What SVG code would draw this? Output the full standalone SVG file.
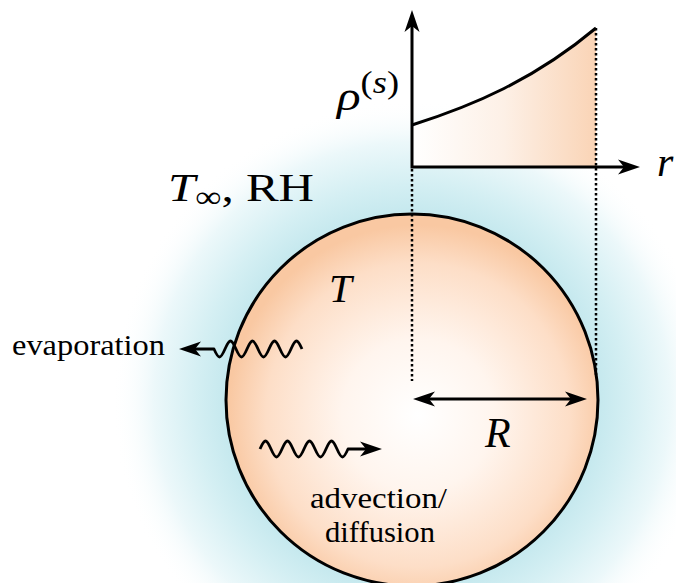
<svg xmlns="http://www.w3.org/2000/svg" width="676" height="583" viewBox="0 0 676 583">
<style>
.ln{fill:none;stroke:#000;stroke-width:3}
.dot{fill:none;stroke:#000;stroke-width:2.5;stroke-dasharray:2.5 2.5}
.wave{fill:none;stroke:#000;stroke-width:2.8;stroke-linejoin:round}
</style>
<defs>
<radialGradient id="glow" gradientUnits="userSpaceOnUse" cx="412" cy="400" r="300">
<stop offset="0.6" stop-color="#c2e7ed"/>
<stop offset="0.72" stop-color="#d4eff3"/>
<stop offset="0.86" stop-color="#ecf8fa"/>
<stop offset="1" stop-color="#ffffff" stop-opacity="0"/>
</radialGradient>
<radialGradient id="drop" gradientUnits="userSpaceOnUse" cx="418" cy="415" r="190">
<stop offset="0" stop-color="#ffffff"/>
<stop offset="0.4" stop-color="#fff5ee"/>
<stop offset="0.8" stop-color="#fddec7"/>
<stop offset="1" stop-color="#f9c8a2"/>
</radialGradient>
<linearGradient id="area" x1="412" y1="0" x2="596" y2="0" gradientUnits="userSpaceOnUse">
<stop offset="0" stop-color="#ffffff"/>
<stop offset="0.5" stop-color="#fdf0e6"/>
<stop offset="1" stop-color="#fad4b6"/>
</linearGradient>
<marker id="ah" viewBox="-22 -8 24 16" refX="-10" refY="0" markerWidth="24" markerHeight="16" markerUnits="userSpaceOnUse" orient="auto-start-reverse">
<path d="M0,0 L-22,-7.5 L-16,0 L-22,7.5 Z" fill="#000"/>
</marker>
</defs>
<rect width="676" height="583" fill="#fff"/>
<g id="glow-region">
<circle cx="412" cy="400" r="300" fill="url(#glow)"/>
</g>
<g id="droplet">
<circle cx="412" cy="400" r="186" fill="url(#drop)" stroke="#000" stroke-width="3"/>
</g>
<g id="plot">
<path d="M412,125 C473.3,105.6 534.7,79.4 596,28 L596,167 L412,167 Z" fill="url(#area)"/>
<path class="ln" d="M412,125 C473.3,105.6 534.7,79.4 596,28"/>
</g>
<g id="connectors">
<path class="ln" d="M412,20 L412,167 L630,167" marker-start="url(#ah)" marker-end="url(#ah)"/>
<path class="dot" d="M412,169 L412,381"/>
<path class="dot" d="M596,28 L596,375"/>
<path class="ln" d="M423,399 L577,399" marker-start="url(#ah)" marker-end="url(#ah)"/>
<path class="wave" d="M302,349 c-1.79,-4.1 -3.51,-8 -5.5,-8 s-3.71,3.9 -5.5,8 s-3.51,8 -5.5,8 s-3.71,-3.9 -5.5,-8 s-3.51,-8 -5.5,-8 s-3.71,3.9 -5.5,8 s-3.51,8 -5.5,8 s-3.71,-3.9 -5.5,-8 s-3.51,-8 -5.5,-8 s-3.71,3.9 -5.5,8 s-3.51,8 -5.5,8 s-3.71,-3.9 -5.5,-8 s-3.51,-8 -5.5,-8 s-3.71,3.9 -5.5,8 s-3.51,8 -5.5,8 s-3.71,-3.9 -5.5,-8 L189,349" marker-end="url(#ah)"/>
<path class="wave" d="M260,449 c1.79,-4.1 3.51,-8 5.5,-8 s3.71,3.9 5.5,8 s3.51,8 5.5,8 s3.71,-3.9 5.5,-8 s3.51,-8 5.5,-8 s3.71,3.9 5.5,8 s3.51,8 5.5,8 s3.71,-3.9 5.5,-8 s3.51,-8 5.5,-8 s3.71,3.9 5.5,8 s3.51,8 5.5,8 s3.71,-3.9 5.5,-8 s3.51,-8 5.5,-8 s3.71,3.9 5.5,8 s3.51,8 5.5,8 s3.71,-3.9 5.5,-8 L372,449" marker-end="url(#ah)"/>
</g>
<g id="labels" fill="#000">
<text x="337" y="110" font-size="42" textLength="62" lengthAdjust="spacingAndGlyphs" font-family="Liberation Serif, DejaVu Serif, serif"><tspan font-style="italic">ρ</tspan><tspan font-size="31" dy="-17">(</tspan><tspan font-style="italic" font-size="31">s</tspan><tspan font-size="31">)</tspan></text>
<text x="657" y="176" font-size="42" font-family="Liberation Serif, DejaVu Serif, serif"><tspan font-style="italic">r</tspan></text>
<text x="168" y="201" font-size="40" textLength="146" lengthAdjust="spacingAndGlyphs" font-family="Liberation Serif, DejaVu Serif, serif"><tspan font-style="italic">T</tspan><tspan font-size="30" dy="6">∞</tspan><tspan dy="-6">, RH</tspan></text>
<text x="329" y="302" font-size="41" font-family="Liberation Serif, DejaVu Serif, serif"><tspan font-style="italic">T</tspan></text>
<text x="485" y="447" font-size="42" font-family="Liberation Serif, DejaVu Serif, serif"><tspan font-style="italic">R</tspan></text>
<text x="12" y="355" font-size="30" textLength="153" lengthAdjust="spacingAndGlyphs" font-family="Liberation Serif, DejaVu Serif, serif"><tspan>evaporation</tspan></text>
<text x="310" y="508" font-size="30" textLength="137" lengthAdjust="spacingAndGlyphs" font-family="Liberation Serif, DejaVu Serif, serif"><tspan>advection/</tspan></text>
<text x="325" y="542" font-size="30" textLength="110" lengthAdjust="spacingAndGlyphs" font-family="Liberation Serif, DejaVu Serif, serif"><tspan>diffusion</tspan></text>
</g>
</svg>
